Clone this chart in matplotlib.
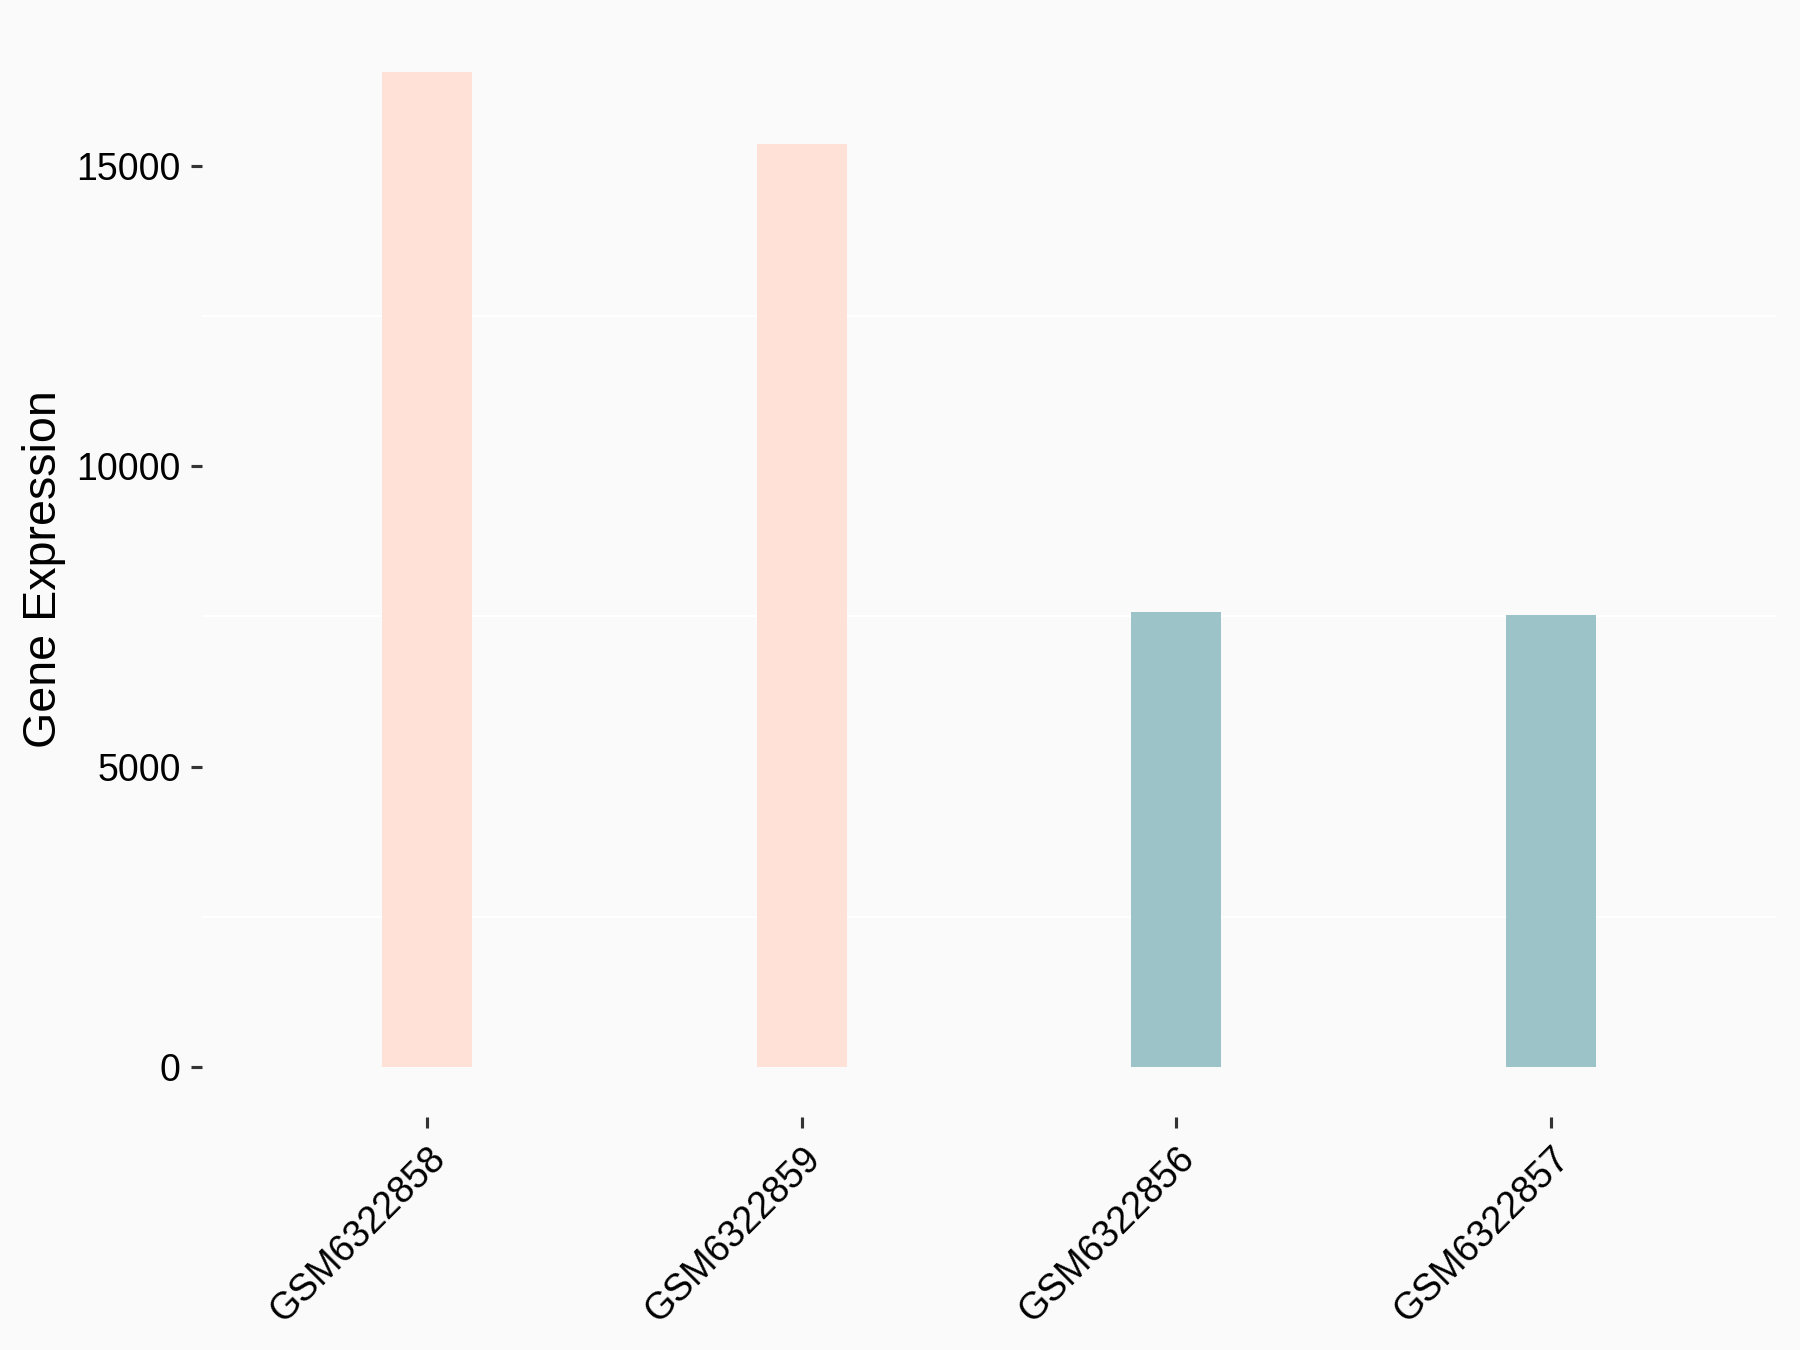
import numpy as np
import matplotlib
matplotlib.use('Agg')
import matplotlib.pyplot as plt
from matplotlib.ticker import FixedLocator

plt.rcParams['font.family'] = ['Liberation Sans', 'DejaVu Sans']

# Dati
samples = ['GSM6322858', 'GSM6322859', 'GSM6322856', 'GSM6322857']
expression = [16560, 15360, 7565, 7530]
groups = ['A', 'A', 'B', 'B']
group_colors = {'A': '#FFE1D7', 'B': '#9CC4C8'}
y_ticks = [0, 5000, 10000, 15000]
grid_minor = [2500, 7500, 12500]

bg = '#FAFAFA'
fig = plt.figure(figsize=(6, 4.5), dpi=300, facecolor=bg)
ax = fig.add_axes([0.1122, 0.1726, 0.8745, 0.8111], facecolor=bg)

x = np.arange(1, len(samples) + 1)
ax.bar(x, expression, width=0.24, color=[group_colors[g] for g in groups], zorder=2)

# griglia minore bianca
for g in grid_minor:
    ax.axhline(g, color='white', lw=0.5, zorder=1)

ymax = max(expression)
ax.set_xlim(0.4, len(samples) + 0.6)
ax.set_ylim(-0.05 * ymax, 1.05 * ymax)

ax.yaxis.set_major_locator(FixedLocator(y_ticks))
ax.set_yticklabels([str(t) for t in y_ticks])
ax.set_xticks(x)
ax.set_xticklabels(samples, rotation=45, ha='right', va='top', rotation_mode='anchor')

ax.tick_params(axis='both', length=2.6, width=0.75, color='#333333', labelsize=9,
               labelcolor='black', pad=2.5)
ax.tick_params(axis='x', pad=3)

for s in ax.spines.values():
    s.set_visible(False)

ax.set_ylabel('Gene Expression', fontsize=11.2, labelpad=2.5)

fig.savefig('out.png', dpi=300, facecolor=bg)
